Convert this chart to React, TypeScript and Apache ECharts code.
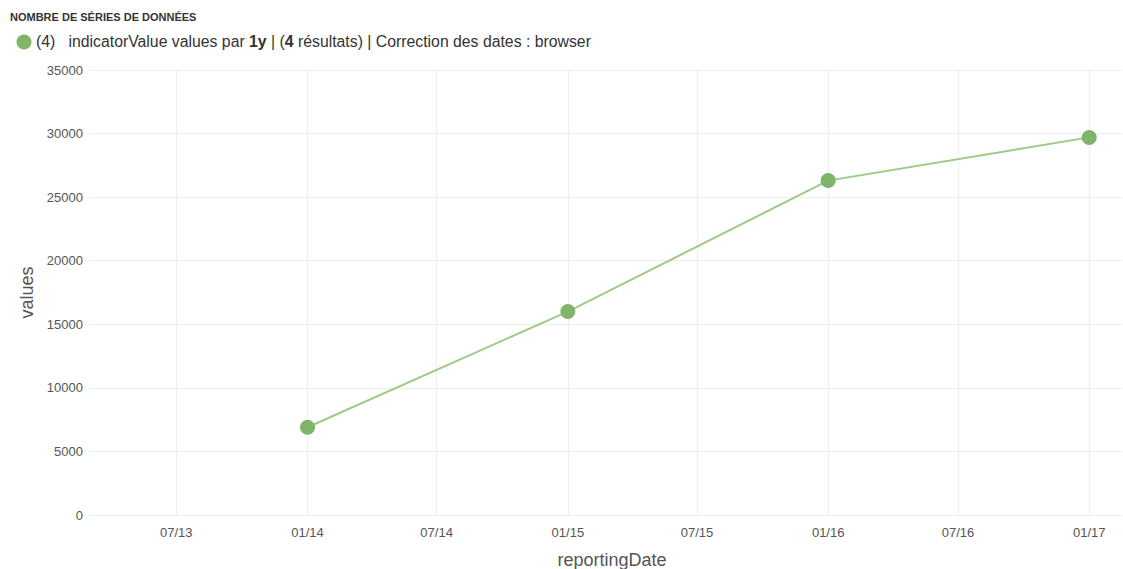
import React, { useEffect, useRef } from "react";
import * as echarts from "echarts";

const dates = ["2014-01-01", "2015-01-01", "2016-01-01", "2017-01-01"];
const values = [6900, 16000, 26300, 29700];
const tickDates = ["2013-07-01", "2014-01-01", "2014-07-01", "2015-01-01", "2015-07-01", "2016-01-01", "2016-07-01", "2017-01-01"];
const yTicks = [0, 5000, 10000, 15000, 20000, 25000, 30000, 35000];
const xMinDate = "2013-03-02";
const xMaxDate = "2017-02-16";

const ts = (d: string) => {
  const [y, m, day] = d.split("-").map(Number);
  return Date.UTC(y, m - 1, day);
};

const FONT = "'Liberation Sans', Arial, sans-serif";

export default function App() {
  const ref = useRef<HTMLDivElement>(null);
  useEffect(() => {
    if (!ref.current) return;
    const chart = echarts.init(ref.current, null, { renderer: "svg" });
    const tickTs = tickDates.map(ts);
    chart.setOption({
      animation: false,
      textStyle: { fontFamily: FONT },
      grid: { left: 90, right: 1, top: 70, bottom: 54, containLabel: false, outerBoundsMode: "none" },
      graphic: [
        {
          type: "text",
          left: 10,
          top: 11,
          style: {
            text: "NOMBRE DE SÉRIES DE DONNÉES",
            font: `bold 11px ${FONT}`,
            fill: "#333",
          },
        },
        {
          type: "circle",
          shape: { cx: 24, cy: 42, r: 7.5 },
          style: { fill: "#7fb46a" },
        },
        {
          type: "text",
          left: 36,
          top: 33,
          style: {
            text: "(4)   indicatorValue values par {b|1y} | ({b|4} résultats) | Correction des dates : browser",
            font: `15.8px ${FONT}`,
            fill: "#333",
            rich: {
              b: { fontWeight: "bold", fontSize: 15.8, fontFamily: FONT, fill: "#333" },
            },
          },
        },
      ],
      xAxis: {
        type: "value",
        min: ts(xMinDate),
        max: ts(xMaxDate),
        name: "reportingDate",
        nameLocation: "middle",
        nameGap: 36,
        nameTextStyle: { fontSize: 18, color: "#555", fontFamily: FONT, padding: [0, 0, 0, 12] },
        axisLine: { show: false },
        axisTick: { show: false, customValues: tickTs },
        axisLabel: {
          customValues: tickTs,
          fontSize: 13,
          color: "#555",
          margin: 11,
          fontFamily: FONT,
          formatter: (v: number) => {
            const d = new Date(v);
            const mm = String(d.getUTCMonth() + 1).padStart(2, "0");
            const yy = String(d.getUTCFullYear() % 100).padStart(2, "0");
            return `${mm}/${yy}`;
          },
        },
        splitLine: { show: true, lineStyle: { color: "#eeeeee", width: 1 } },
      },
      yAxis: {
        type: "value",
        min: 0,
        max: 35000,
        interval: 5000,
        name: "values",
        nameLocation: "middle",
        nameGap: 42,
        nameTextStyle: { fontSize: 18, color: "#555", fontFamily: FONT },
        axisLine: { show: false },
        axisTick: { show: false, customValues: yTicks },
        axisLabel: {
          customValues: yTicks,
          fontSize: 13,
          color: "#555",
          margin: 7,
          fontFamily: FONT,
          formatter: (v: number) => String(v),
        },
        splitLine: { show: true, lineStyle: { color: "#eeeeee", width: 1 } },
      },
      series: [
        {
          type: "line",
          name: "(4)",
          data: dates.map((d, i) => [ts(d), values[i]]),
          symbol: "circle",
          symbolSize: 15,
          itemStyle: { color: "#7fb46a" },
          lineStyle: { color: "#9ccb88", width: 2 },
        },
      ],
    });
    return () => chart.dispose();
  }, []);
  return (
    <div
      ref={ref}
      style={{ position: "fixed", left: 0, top: 0, width: 1123, height: 569, background: "#fff" }}
    />
  );
}
